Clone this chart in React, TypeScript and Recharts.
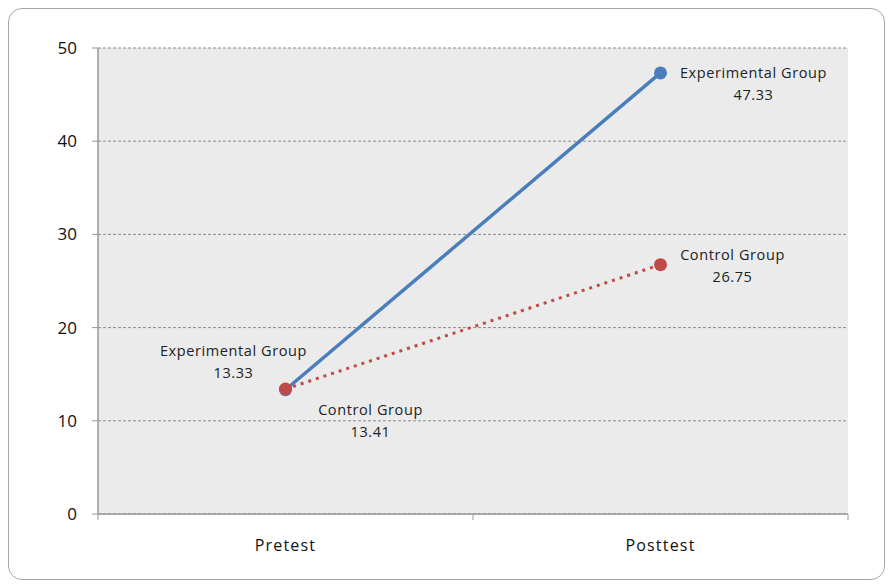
import { LineChart, Line, XAxis, YAxis, CartesianGrid, LabelList } from 'recharts';

const categories = ['Pretest', 'Posttest'];
const experimental = [13.33, 47.33];
const control = [13.41, 26.75];
const seriesNames = ['Experimental Group', 'Control Group'];
const yTicks = [0, 10, 20, 30, 40, 50];
const xTicks = [0, 0.5, 1, 1.5, 2];

// first-line offset of each data label from its point, per series and category
const expLabelOffsets = [
  [-52, -39],
  [93, 0],
];
const ctrlLabelOffsets = [
  [85, 20],
  [72, -10],
];

const data = categories.map((category, i) => ({
  x: i + 0.5,
  category,
  experimental: experimental[i],
  control: control[i],
}));

const FONT = '"Open Sans", "Noto Sans", sans-serif';

const makeLabel = (name: string, offsets: number[][]) => (props: any) => {
  const { x, y, value, index } = props;
  const [dx, dy] = offsets[index] || [0, 0];
  return (
    <g>
      <text
        x={x + dx}
        y={y + dy}
        textAnchor="middle"
        dominantBaseline="central"
        fontSize={14.5}
        letterSpacing={0.6}
        fontFamily={FONT}
        fill="#222"
      >
        {name}
      </text>
      <text
        x={x + dx}
        y={y + dy + 22}
        textAnchor="middle"
        dominantBaseline="central"
        fontSize={14.5}
        letterSpacing={0.6}
        fontFamily={FONT}
        fill="#222"
      >
        {Number(value).toFixed(2)}
      </text>
    </g>
  );
};

const XTick = (props: any) => {
  const { x, y, payload } = props;
  const v = payload.value;
  if (Number.isInteger(v)) {
    return <line x1={x} x2={x} y1={y} y2={y + 6} stroke="#999" strokeWidth={1} />;
  }
  return (
    <text
      x={x}
      y={y + 31}
      textAnchor="middle"
      dominantBaseline="central"
      fontSize={16}
      letterSpacing={1.2}
      fontFamily={FONT}
      fill="#111"
    >
      {categories[Math.floor(v)]}
    </text>
  );
};

export default function App() {
  return (
    <div
      style={{
        width: 875,
        height: 570,
        border: '1px solid #a6a6a6',
        borderRadius: 14,
        background: '#fff',
      }}
    >
      <LineChart width={875} height={570} data={data} margin={{ top: 39, right: 36, left: 0, bottom: 0 }}>
        <CartesianGrid vertical={false} stroke="#8a8a8a" strokeDasharray="3 2" fill="#ebebeb" />
        <XAxis
          dataKey="x"
          type="number"
          domain={[0, 2]}
          ticks={xTicks}
          interval={0}
          height={65}
          tickSize={0}
          tickMargin={0}
          tickLine={false}
          axisLine={{ stroke: '#999', strokeWidth: 1.5 }}
          tick={<XTick />}
        />
        <YAxis
          type="number"
          domain={[0, 50]}
          ticks={yTicks}
          interval={0}
          width={89}
          tickSize={6}
          tickMargin={15}
          tickLine={{ stroke: '#999' }}
          axisLine={{ stroke: '#999', strokeWidth: 1.5 }}
          tick={{ fill: '#111', fontSize: 17, fontFamily: FONT }}
        />
        <Line
          dataKey="experimental"
          name={seriesNames[0]}
          stroke="#4a7ebb"
          strokeWidth={3.5}
          dot={{ r: 6.5, fill: '#4a7ebb', stroke: 'none', strokeWidth: 0 }}
          isAnimationActive={false}
        >
          <LabelList dataKey="experimental" content={makeLabel(seriesNames[0], expLabelOffsets)} />
        </Line>
        <Line
          dataKey="control"
          name={seriesNames[1]}
          stroke="#be4b48"
          strokeWidth={3}
          strokeDasharray="3 5"
          dot={{ r: 6.5, fill: '#be4b48', stroke: 'none', strokeWidth: 0, strokeDasharray: '0' }}
          isAnimationActive={false}
        >
          <LabelList dataKey="control" content={makeLabel(seriesNames[1], ctrlLabelOffsets)} />
        </Line>
      </LineChart>
    </div>
  );
}
